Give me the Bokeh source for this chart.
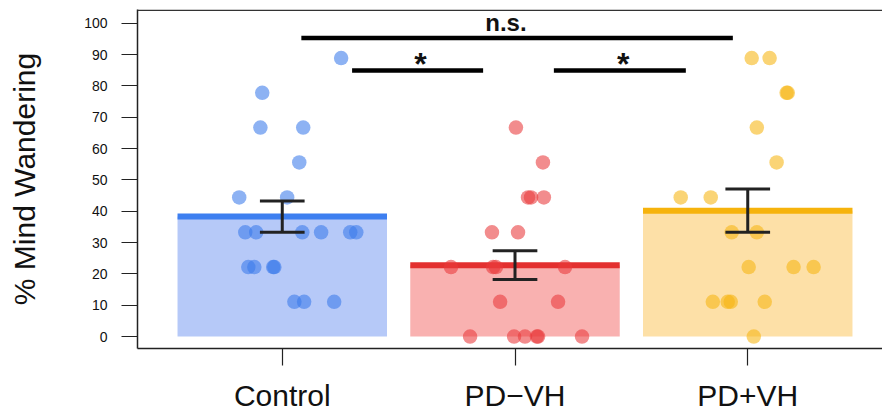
from bokeh.plotting import figure
from bokeh.models import Range1d, FixedTicker, Span
from bokeh.embed import file_html
from bokeh.resources import INLINE
from bokeh.core.properties import value

# ---------------- data ----------------
groups = ["Control", "PD\u2212VH", "PD+VH"]
group_pos = [1, 2, 3]
bar_means = [38.3, 22.8, 40.2]
bar_sem = [5.0, 4.6, 6.9]

line_colors = ["#3d7ff0", "#e3302f", "#f6b30c"]
fill_colors = ["#b6c9f8", "#f9b1b0", "#fde0a7"]
point_colors = ["#3a7aea", "#e8383a", "#f7b512"]

control_vals = [88.9, 77.8, 66.7, 66.7, 55.6, 44.4, 44.4,
                33.3, 33.3, 33.3, 33.3, 33.3, 33.3,
                22.2, 22.2, 22.2, 22.2, 11.1, 11.1, 11.1]
control_jit = [0.253, -0.086, -0.094, 0.090, 0.073, -0.185, 0.021,
               -0.159, -0.112, 0.086, 0.167, 0.292, 0.318,
               -0.146, -0.120, -0.039, -0.034, 0.052, 0.094, 0.223]

pdvh_vals = [66.7, 55.6, 44.4, 44.4, 44.4, 33.3, 33.3,
             22.2, 22.2, 22.2, 22.2, 11.1, 11.1,
             0.0, 0.0, 0.0, 0.0, 0.0, 0.0]
pdvh_jit = [0.004, 0.120, 0.056, 0.069, 0.124, -0.099, 0.013,
            -0.275, -0.094, -0.082, 0.215, -0.064, 0.185,
            -0.193, -0.004, 0.043, 0.094, 0.099, 0.288]

pdpvh_vals = [88.9, 88.9, 77.8, 77.8, 66.7, 55.6, 44.4, 44.4,
              33.3, 33.3, 22.2, 22.2, 22.2,
              11.1, 11.1, 11.1, 11.1, 0.0]
pdpvh_jit = [0.017, 0.094, 0.167, 0.172, 0.039, 0.124, -0.288, -0.159,
             -0.069, 0.039, 0.004, 0.197, 0.283,
             -0.150, -0.086, -0.073, 0.073, 0.026]

y_ticks = [0, 10, 20, 30, 40, 50, 60, 70, 80, 90, 100]

# significance brackets
sig_x0 = [1.082, 1.300, 2.167]
sig_x1 = [2.936, 1.863, 2.734]
sig_y = [95.3, 84.9, 84.9]
sig_labels = ["n.s.", "*", "*"]
sig_label_x = [1.961, 1.594, 2.465]
sig_label_y = [100.4, 87.0, 87.0]

# ---------------- figure ----------------
p = figure(width=882, height=414, output_backend="svg", toolbar_location=None,
           x_range=Range1d(0.378, 3.579), y_range=Range1d(-3.8, 104.4),
           min_border_left=137, min_border_right=0, min_border_top=9,
           min_border_bottom=64)
p.outline_line_color = None
p.xgrid.visible = False
p.ygrid.visible = False
p.background_fill_color = "white"
p.border_fill_color = "white"

# bars
bw = 0.9
p.vbar(x=group_pos, top=bar_means, bottom=0, width=bw,
       fill_color=fill_colors, line_color=None)
p.segment(x0=[x - bw / 2 for x in group_pos], y0=bar_means,
          x1=[x + bw / 2 for x in group_pos], y1=bar_means,
          line_color=line_colors, line_width=6, line_cap="butt")

# points
for gx, vals, jit, col in [(1, control_vals, control_jit, point_colors[0]),
                           (2, pdvh_vals, pdvh_jit, point_colors[1]),
                           (3, pdpvh_vals, pdpvh_jit, point_colors[2])]:
    xs = [gx + j for j in jit]
    p.scatter(x=xs, y=vals, size=14.5, fill_color=col, fill_alpha=0.58,
              line_color=None)

# error bars
cap = 0.096
lo = [m - s for m, s in zip(bar_means, bar_sem)]
hi = [m + s for m, s in zip(bar_means, bar_sem)]
p.segment(x0=group_pos, y0=lo, x1=group_pos, y1=hi,
          line_color="#222222", line_width=3)
p.segment(x0=[x - cap for x in group_pos], y0=hi, x1=[x + cap for x in group_pos], y1=hi,
          line_color="#222222", line_width=3)
p.segment(x0=[x - cap for x in group_pos], y0=lo, x1=[x + cap for x in group_pos], y1=lo,
          line_color="#222222", line_width=3)

# significance annotations
p.segment(x0=sig_x0, y0=sig_y, x1=sig_x1, y1=sig_y,
          line_color="black", line_width=4.5, line_cap="butt")
p.text(x=sig_label_x[:1], y=sig_label_y[:1], text=sig_labels[:1],
       text_font=value("Liberation Sans"), text_font_style="bold",
       text_font_size="24px", text_align="center", text_baseline="alphabetic",
       text_color="#111111")
p.text(x=sig_label_x[1:], y=sig_label_y[1:], text=sig_labels[1:],
       text_font=value("Liberation Sans"), text_font_style="bold",
       text_font_size="32px", text_align="center", text_baseline="alphabetic",
       text_color="#111111")

# top frame line
p.add_layout(Span(location=104.2, dimension="width", line_color="#333333",
                  line_width=1.5))

# axes
yax = p.yaxis[0]
yax.ticker = FixedTicker(ticks=y_ticks)
yax.minor_tick_line_color = None
yax.major_tick_in = 0
yax.major_tick_out = 16
yax.major_tick_line_color = "#222222"
yax.major_tick_line_width = 1.2
yax.axis_line_color = "#222222"
yax.axis_line_width = 1.5
yax.major_label_text_font = "Liberation Sans"
yax.major_label_text_font_size = "14px"
yax.major_label_text_color = "#111111"
yax.major_label_standoff = 14
yax.axis_label = "% Mind Wandering"
yax.axis_label_text_font = "Liberation Sans"
yax.axis_label_text_font_size = "30px"
yax.axis_label_text_font_style = "normal"
yax.axis_label_text_color = "#111111"
yax.axis_label_standoff = 40

xax = p.xaxis[0]
xax.ticker = FixedTicker(ticks=group_pos)
xax.major_label_overrides = {g: lab for g, lab in zip(group_pos, groups)}
xax.minor_tick_line_color = None
xax.major_tick_in = 0
xax.major_tick_out = 17
xax.major_tick_line_color = "#222222"
xax.major_tick_line_width = 1.2
xax.axis_line_color = "#222222"
xax.axis_line_width = 1.5
xax.major_label_text_font = "Liberation Sans"
xax.major_label_text_font_size = "30px"
xax.major_label_text_color = "#111111"
xax.major_label_standoff = 13

open("out.html", "w").write(file_html(p, INLINE))
